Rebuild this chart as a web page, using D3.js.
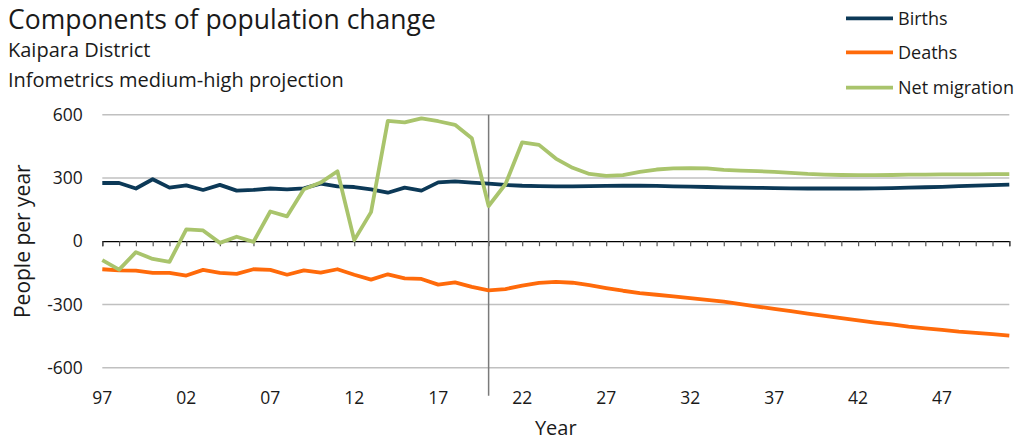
<!DOCTYPE html>
<html>
<head>
<meta charset="utf-8">
<script src="https://cdn.jsdelivr.net/npm/d3@7"></script>
<style>
  body { margin: 0; background: #fff; }
  text { font-family: "Open Sans", "Noto Sans", sans-serif; fill: #1a1a1a; }
</style>
</head>
<body>
<script>
var years = [1997, 1998, 1999, 2000, 2001, 2002, 2003, 2004, 2005, 2006,
             2007, 2008, 2009, 2010, 2011, 2012, 2013, 2014, 2015, 2016,
             2017, 2018, 2019, 2020, 2021, 2022, 2023, 2024, 2025, 2026,
             2027, 2028, 2029, 2030, 2031, 2032, 2033, 2034, 2035, 2036,
             2037, 2038, 2039, 2040, 2041, 2042, 2043, 2044, 2045, 2046,
             2047, 2048, 2049, 2050, 2051];

var births = [276, 276, 250, 294, 254, 265, 243, 267, 240, 243,
              250, 246, 251, 273, 260, 257, 246, 230, 254, 240,
              279, 284, 278, 273, 267, 263, 261, 260, 260, 261,
              262, 263, 263, 262, 260, 259, 257, 255, 254, 253,
              252, 251, 250, 250, 250, 250, 251, 252, 254, 256,
              258, 261, 264, 266, 268];

var deaths = [-133, -138, -140, -150, -150, -163, -136, -150, -155, -133,
              -136, -159, -138, -149, -133, -159, -182, -157, -176, -179,
              -206, -195, -217, -233, -227, -211, -198, -193, -197, -208,
              -222, -235, -246, -254, -262, -270, -278, -287, -298, -310,
              -321, -332, -343, -354, -365, -376, -386, -395, -405, -413,
              -421, -429, -435, -441, -448];

var netMigration = [-90, -135, -52, -84, -98, 56, 51, -8, 21, -3,
                    141, 118, 246, 278, 332, 5, 138, 571, 564, 583,
                    569, 552, 488, 167, 270, 469, 457, 392, 348, 319,
                    310, 313, 329, 340, 345, 346, 345, 338, 335, 332,
                    329, 324, 319, 316, 314, 313, 313, 314, 316, 316,
                    317, 317, 317, 318, 318];

var seriesNames = ["Births", "Deaths", "Net migration"];
var seriesColors = ["#0c3957", "#ff6a0a", "#a9c46c"];

var yTicks = [600, 300, 0, -300, -600];
var xTickYears = [1997, 2002, 2007, 2012, 2017, 2022, 2027, 2032, 2037, 2042, 2047];
var xTickLabels = ["97", "02", "07", "12", "17", "22", "27", "32", "37", "42", "47"];
var splitYear = 2020;

var W = 1018, H = 440;
var margin = {top: 114.7, right: 8.7, bottom: 72.3, left: 102.3};
var width = W - margin.left - margin.right,
    height = H - margin.top - margin.bottom;

var svg = d3.select("body").append("svg")
    .attr("width", W)
    .attr("height", H);

var x = d3.scaleLinear()
    .domain([years[0], years[years.length - 1]])
    .range([0, width]);

var y = d3.scaleLinear()
    .domain([-600, 600])
    .range([height, 0]);

var main = svg.append("g")
    .attr("transform", "translate(" + margin.left + "," + margin.top + ")");

// gridlines
main.append("g")
    .selectAll("line")
    .data(yTicks.filter(function(d) { return d !== 0; }))
    .enter().append("line")
    .attr("x1", 0)
    .attr("x2", width)
    .attr("y1", function(d) { return y(d); })
    .attr("y2", function(d) { return y(d); })
    .attr("stroke", "#c0c0c0")
    .attr("stroke-width", 1.5);

// y tick labels
main.append("g")
    .selectAll("text")
    .data(yTicks)
    .enter().append("text")
    .attr("x", -19.5)
    .attr("y", function(d) { return y(d); })
    .attr("dy", "0.35em")
    .attr("text-anchor", "end")
    .style("font-size", "17.5px")
    .text(function(d) { return d; });

// zero axis with yearly ticks
var xAxis = d3.axisBottom(x)
    .tickValues(years)
    .tickSize(5)
    .tickFormat("");

var axisG = main.append("g")
    .attr("transform", "translate(0," + y(0) + ")")
    .call(xAxis);
axisG.select(".domain").attr("stroke", "#000").attr("stroke-width", 1.2);
axisG.selectAll(".tick line").attr("stroke", "#555").attr("stroke-width", 1.2);

// x tick labels along the bottom
main.append("g")
    .selectAll("text")
    .data(xTickYears)
    .enter().append("text")
    .attr("x", function(d) { return x(d); })
    .attr("y", 289.8)
    .attr("text-anchor", "middle")
    .style("font-size", "17.5px")
    .text(function(d, i) { return xTickLabels[i]; });

// history / projection divider
main.append("line")
    .attr("x1", x(splitYear))
    .attr("x2", x(splitYear))
    .attr("y1", 0)
    .attr("y2", 281)
    .attr("stroke", "#7a7a7a")
    .attr("stroke-width", 1.5);

// series
var allSeries = [births, deaths, netMigration];
var line = d3.line()
    .x(function(d, i) { return x(years[i]); })
    .y(function(d) { return y(d); });

allSeries.forEach(function(s, k) {
  main.append("path")
      .datum(s)
      .attr("d", line)
      .attr("fill", "none")
      .attr("stroke", seriesColors[k])
      .attr("stroke-width", 3.8)
      .attr("stroke-linejoin", "round");
});

// axis titles
svg.append("text")
    .attr("text-anchor", "middle")
    .attr("transform", "translate(" + 29.5 + "," + (margin.top + height / 2) + ")rotate(-90)")
    .style("font-size", "21px")
    .text("People per year");

svg.append("text")
    .attr("text-anchor", "middle")
    .attr("x", margin.left + width / 2)
    .attr("y", 435)
    .style("font-size", "20px")
    .text("Year");

// titles
svg.append("text")
    .attr("x", 8)
    .attr("y", 28.5)
    .style("font-size", "26.5px")
    .text("Components of population change");

svg.append("text")
    .attr("x", 8)
    .attr("y", 57)
    .style("font-size", "20px")
    .text("Kaipara District");

svg.append("text")
    .attr("x", 8)
    .attr("y", 86.5)
    .style("font-size", "20px")
    .text("Infometrics medium-high projection");

// legend
var legend = svg.selectAll(".legend")
    .data(seriesNames)
    .enter().append("g")
    .attr("class", "legend")
    .attr("transform", function(d, i) { return "translate(846," + [18.3, 52.3, 87.7][i] + ")"; });

legend.append("line")
    .attr("x1", 0)
    .attr("x2", 47)
    .attr("stroke", function(d, i) { return seriesColors[i]; })
    .attr("stroke-width", 3.8);

legend.append("text")
    .attr("x", 52)
    .attr("dy", "0.35em")
    .style("font-size", "18px")
    .text(function(d) { return d; });
</script>
</body>
</html>
